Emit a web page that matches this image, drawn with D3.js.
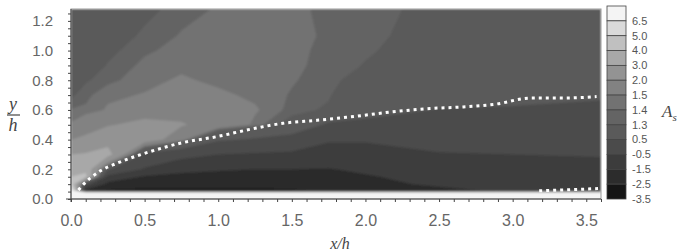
<!DOCTYPE html>
<html>
<head>
<meta charset="utf-8">
<script src="https://cdn.jsdelivr.net/npm/d3@7"></script>
<style>
body { margin: 0; background: #fff; }
svg { display: block; }
.axis text { fill: #666; font-family: "Liberation Sans", Arial, sans-serif; }
.axis path, .axis line { stroke: #444; }
.lbl { font-family: "Liberation Serif", "DejaVu Serif", serif; font-style: italic; fill: #444; }
</style>
</head>
<body>
<div id="chart"></div>
<script>
// grid positions of the field (x/h, y/h)
const gridX = [0, 0.1, 0.25, 0.5, 0.75, 1.0, 1.25, 1.5, 1.75, 2.0, 2.5, 3.0, 3.6];
const gridY = [0, 0.04, 0.055, 0.1, 0.15, 0.2, 0.3, 0.4, 0.5, 0.6, 0.7, 0.8, 0.9, 1.0, 1.1, 1.28];

// A_s, one row per gridY value
const fieldA = [
  [7.5, 7.5, 7.5, 7.5, 7.5, 7.5, 7.5, 7.5, 7.5, 7.5, 7.5, 7.5, 7.5],
  [7.5, 7.5, 7.5, 7.5, 7.5, 7.5, 7.5, 7.5, 7.5, 7.5, 7.5, 7.5, 7.5],
  [7.2, -2.0, -2.6, -2.7, -2.7, -2.7, -2.7, -2.6, -2.4, -2.2, -1.8, -1.3, -1.2],
  [4.8, 0.0, -1.8, -2.1, -2.2, -2.2, -2.2, -2.1, -2.0, -1.85, -1.3, -1.1, -1.0],
  [4.0, 4.2, -0.8, -1.6, -1.8, -1.85, -1.9, -1.85, -1.75, -1.6, -1.1, -0.95, -0.9],
  [3.6, 3.8, 0.6, -0.6, -1.2, -1.4, -1.5, -1.5, -1.55, -1.3, -0.9, -0.8, -0.75],
  [3.0, 3.1, 3.4, 0.3, -0.2, -0.5, -0.6, -0.65, -0.7, -0.7, -0.55, -0.5, -0.45],
  [2.0, 2.15, 2.6, 2.4, 1.6, 0.6, 0.4, 0.1, -0.45, -0.45, -0.2, -0.2, -0.15],
  [1.52, 1.7, 1.95, 2.2, 2.05, 1.75, 1.46, 1.2, 0.35, 0.2, 0.1, 0.05, 0.05],
  [1.41, 1.42, 1.52, 1.7, 1.8, 1.68, 1.52, 1.36, 1.27, 0.9, 0.45, 0.35, 0.35],
  [1.27, 1.37, 1.47, 1.51, 1.6, 1.53, 1.47, 1.39, 1.32, 1.05, 1.0, 0.9, 0.58],
  [1.15, 1.28, 1.37, 1.46, 1.52, 1.47, 1.45, 1.41, 1.35, 1.2, 1.1, 1.05, 1.0],
  [1.1, 1.2, 1.31, 1.43, 1.47, 1.44, 1.45, 1.42, 1.37, 1.29, 1.15, 1.1, 1.05],
  [1.05, 1.12, 1.26, 1.38, 1.44, 1.42, 1.45, 1.42, 1.38, 1.32, 1.2, 1.15, 1.1],
  [1.0, 1.08, 1.2, 1.33, 1.41, 1.41, 1.44, 1.42, 1.39, 1.34, 1.22, 1.18, 1.12],
  [0.95, 1.0, 1.12, 1.25, 1.36, 1.41, 1.43, 1.41, 1.39, 1.35, 1.25, 1.2, 1.15]
];

// contour levels (legend) and their grays
const levels = [-3.5, -2.5, -1.5, -0.5, 0.5, 1.3, 1.4, 1.5, 2.0, 3.0, 4.0, 5.0, 6.5];
const grays = ["#151515", "#2c2c2c", "#3c3c3c", "#4b4b4b", "#5a5a5a", "#646464", "#727272",
               "#828282", "#939393", "#a8a8a8", "#c0c0c0", "#dadada", "#f4f4f4"];

// dotted curves
const edgeX = [0.05, 0.075, 0.13, 0.2, 0.31, 0.54, 0.76, 0.99, 1.22, 1.44, 1.67, 1.87, 2.21, 2.44, 2.66, 2.89, 3.12, 3.34, 3.57];
const edgeY = [0.06, 0.088, 0.14, 0.19, 0.24, 0.32, 0.38, 0.42, 0.47, 0.51, 0.53, 0.55, 0.59, 0.61, 0.62, 0.64, 0.68, 0.68, 0.69];
const wallX = [3.18, 3.58];
const wallY = [0.055, 0.07];

const xTicks = [0, 0.5, 1.0, 1.5, 2.0, 2.5, 3.0, 3.5];
const yTicks = [0, 0.2, 0.4, 0.6, 0.8, 1.0, 1.2];

const svgWidth = 680, svgHeight = 251;
const plot = {left: 71, right: 601, top: 9, bottom: 199};

const x = d3.scaleLinear().domain([0, 3.6]).range([plot.left, plot.right]);
const y = d3.scaleLinear().domain([0, 1.28]).range([plot.bottom, plot.top]);
const color = d3.scaleOrdinal().domain(levels).range(grays);
const fmt = d => d.toFixed(1);

const svg = d3.select("#chart").append("svg")
    .attr("width", svgWidth)
    .attr("height", svgHeight);

const defs = svg.append("defs");
defs.append("clipPath").attr("id", "clip")
  .append("rect")
    .attr("x", plot.left).attr("y", plot.top)
    .attr("width", plot.right - plot.left).attr("height", plot.bottom - plot.top);
defs.append("filter").attr("id", "soft")
  .append("feGaussianBlur").attr("stdDeviation", 1.0);

// contour field: grid index -> data -> pixel
const nx = gridX.length, ny = gridY.length;
const gx = d3.scaleLinear().domain(gridX.map((d, i) => i + 0.5)).range(gridX).clamp(true);
const gy = d3.scaleLinear().domain(gridY.map((d, i) => i + 0.5)).range(gridY).clamp(true);
const proj = d3.geoTransform({
  point: function(px, py) { this.stream.point(x(gx(px)), y(gy(py))); }
});
const path = d3.geoPath(proj);

const bands = d3.contours().size([nx, ny]).thresholds(levels)(fieldA.flat());

const field = svg.append("g").attr("clip-path", "url(#clip)")
  .append("g").attr("filter", "url(#soft)");

field.selectAll("path")
  .data(bands)
  .enter().append("path")
    .attr("d", path)
    .attr("fill", d => color(d.value));

// dotted lines
const line = d3.line().curve(d3.curveMonotoneX);
const dotted = svg.append("g").attr("clip-path", "url(#clip)");
dotted.append("path")
    .attr("d", line(edgeX.map((d, i) => [x(d), y(edgeY[i])])))
    .attr("fill", "none").attr("stroke", "#fff")
    .attr("stroke-width", 3).attr("stroke-dasharray", "3,4");
dotted.append("path")
    .attr("d", line(wallX.map((d, i) => [x(d), y(wallY[i])])))
    .attr("fill", "none").attr("stroke", "#fff")
    .attr("stroke-width", 3).attr("stroke-dasharray", "3,4");

// frame
svg.append("rect")
    .attr("x", plot.left).attr("y", plot.top)
    .attr("width", plot.right - plot.left).attr("height", plot.bottom - plot.top)
    .attr("fill", "none").attr("stroke", "#999");

// axes: minor ticks
svg.append("g")
    .attr("class", "axis")
    .attr("transform", "translate(0," + plot.bottom + ")")
    .call(d3.axisBottom(x).tickValues(d3.range(0, 3.61, 0.1)).tickSize(3).tickFormat(""))
    .call(g => g.select(".domain").attr("d", "M" + (plot.left - 5) + ",0H" + plot.right));

svg.append("g")
    .attr("class", "axis")
    .attr("transform", "translate(" + plot.left + ",0)")
    .call(d3.axisLeft(y).tickValues(d3.range(0, 1.27, 0.05)).tickSize(3).tickFormat(""))
    .call(g => g.select(".domain").attr("d", "M0," + (plot.bottom + 3) + "V" + plot.top));

// axes: labels
svg.append("g")
    .attr("class", "axis")
    .attr("transform", "translate(0," + plot.bottom + ")")
    .call(d3.axisBottom(x).tickValues(xTicks).tickSize(0).tickPadding(16).tickFormat(fmt))
    .call(g => g.select(".domain").remove())
    .selectAll("text").style("font-size", "16px");

svg.append("g")
    .attr("class", "axis")
    .attr("transform", "translate(" + plot.left + ",0)")
    .call(d3.axisLeft(y).tickValues(yTicks).tickSize(0).tickPadding(18).tickFormat(fmt))
    .call(g => g.select(".domain").remove())
    .selectAll("text").style("font-size", "15px");

// axis titles
svg.append("text").attr("class", "lbl")
    .attr("x", 13).attr("y", 110).attr("text-anchor", "middle")
    .style("font-size", "18px").text("y");
svg.append("line")
    .attr("x1", 7).attr("x2", 20).attr("y1", 115).attr("y2", 115)
    .attr("stroke", "#444").attr("stroke-width", 1.2);
svg.append("text").attr("class", "lbl")
    .attr("x", 13).attr("y", 131).attr("text-anchor", "middle")
    .style("font-size", "18px").text("h");

svg.append("text").attr("class", "lbl")
    .attr("x", 340).attr("y", 249).attr("text-anchor", "middle")
    .style("font-size", "16px").text("x/h");

// colour bar
const barLevels = levels.slice().reverse();
const bar = d3.scaleBand().domain(barLevels).range([6, 199]);
const legend = svg.append("g");

legend.selectAll("rect")
  .data(barLevels)
  .enter().append("rect")
    .attr("x", 607)
    .attr("y", d => bar(d))
    .attr("width", 19)
    .attr("height", bar.bandwidth())
    .attr("fill", d => color(d))
    .attr("stroke", "#444")
    .attr("stroke-width", 0.8);

legend.selectAll("text")
  .data(barLevels)
  .enter().append("text")
    .attr("x", 632)
    .attr("y", d => bar(d) + bar.bandwidth())
    .attr("dy", "0.35em")
    .attr("fill", "#555")
    .style("font-family", "'Liberation Sans', Arial, sans-serif")
    .style("font-size", "11px")
    .text(d => fmt(d));

const aLabel = svg.append("text").attr("class", "lbl")
    .attr("x", 662).attr("y", 117)
    .style("font-size", "17px")
    .text("A");
aLabel.append("tspan")
    .attr("dy", 4)
    .style("font-size", "11px")
    .text("s");
</script>
</body>
</html>
